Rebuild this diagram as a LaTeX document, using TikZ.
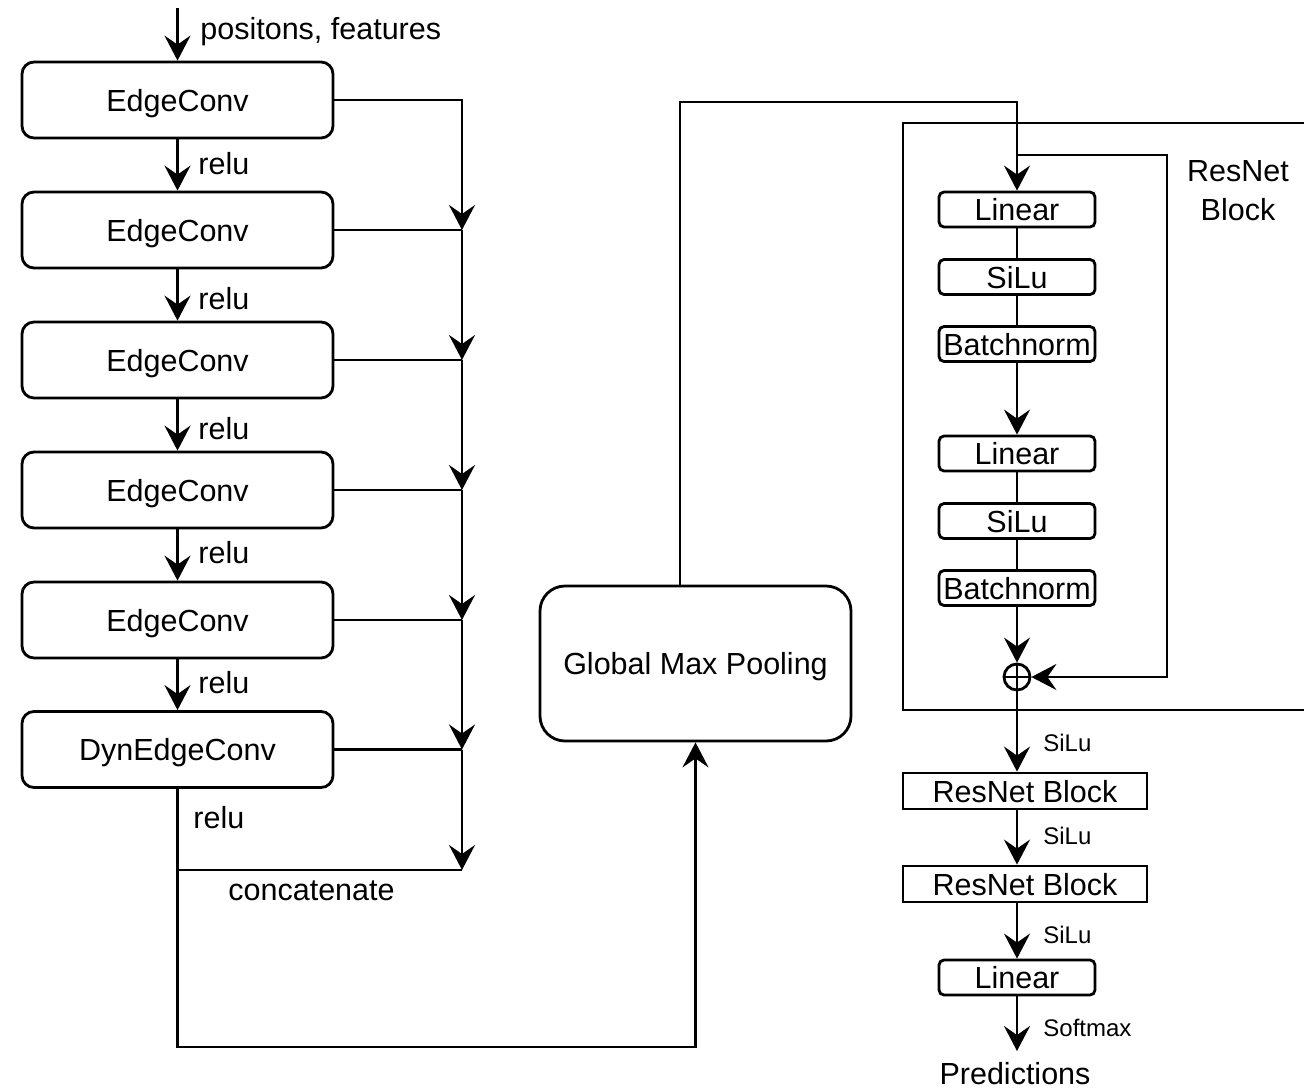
\documentclass[tikz,border=0pt]{standalone}
\usepackage{fontspec}
\setmainfont{Liberation Sans}
\usetikzlibrary{arrows.meta}
\begin{document}
\begin{tikzpicture}[x=1pt,y=-1pt, line width=2.8pt,
  big/.style={font=\fontsize{30.5}{39}\selectfont},
  small/.style={font=\fontsize{24}{28}\selectfont},
  capb/.style={text height=22pt, text depth=0pt},
  caps/.style={text height=17.3pt, text depth=0pt},
  conv/.style={draw, rounded corners=12pt, minimum width=311pt, minimum height=76pt, big, capb, inner sep=0pt},
  layer/.style={draw, rounded corners=5pt, minimum width=156pt, minimum height=35pt, big, capb, inner sep=0pt},
  rblock/.style={draw, minimum width=244pt, minimum height=36pt, big, capb, inner sep=0pt},
  arr/.style={-{Stealth[length=25pt,width=26pt,inset=9pt]}},
  lbl/.style={big, capb, anchor=west, inner sep=0pt},
  slbl/.style={small, caps, anchor=west, inner sep=0pt}]
\useasboundingbox (0,0) rectangle (1304,1088);

% left column
\node[conv] (e1) at (177.5,100) {EdgeConv};
\node[conv] (e2) at (177.5,230) {EdgeConv};
\node[conv] (e3) at (177.5,360) {EdgeConv};
\node[conv] (e4) at (177.5,490) {EdgeConv};
\node[conv] (e5) at (177.5,620) {EdgeConv};
\node[conv] (dyn) at (177.5,749.5) {DynEdgeConv};

\coordinate (in) at (177.5,8);
\draw[arr] (in) -- (e1.north);
\node[lbl] (inl) at (199,28) {positons, features};

\draw[arr] (e1) -- (e2);
\draw[arr] (e2) -- (e3);
\draw[arr] (e3) -- (e4);
\draw[arr] (e4) -- (e5);
\draw[arr] (e5) -- (dyn);
\node[lbl] (r1) at (197,163) {relu};
\node[lbl] (r2) at (197,298) {relu};
\node[lbl] (r3) at (197,428) {relu};
\node[lbl] (r4) at (197,552) {relu};
\node[lbl] (r5) at (197,682) {relu};
\node[lbl] (r6) at (192,817) {relu};

% concatenation bus
\coordinate (j2) at (462,230);
\coordinate (j3) at (462,360);
\coordinate (j4) at (462,490);
\coordinate (j5) at (462,620);
\coordinate (j6) at (462,749.5);
\coordinate (j7) at (462,870);
\coordinate (cc) at (177.5,870);
\draw[arr] (e1.east) -| (j2);
\draw (e2.east) -- (j2);
\draw[arr] (j2) -- (j3);
\draw (e3.east) -- (j3);
\draw[arr] (j3) -- (j4);
\draw (e4.east) -- (j4);
\draw[arr] (j4) -- (j5);
\draw (e5.east) -- (j5);
\draw[arr] (j5) -- (j6);
\draw (dyn.east) -- (j6);
\draw[arr] (j6) -- (j7);
\draw (j7) -- (cc);
\node[lbl] (cat) at (227,889) {concatenate};

% global max pooling
\node[draw, rounded corners=25pt, minimum width=311pt, minimum height=155pt, big, capb] (gmp) at (695.5,663.5) {Global Max Pooling};
\coordinate (bl) at (177.5,1047);
\draw[arr] (dyn.south) -- (bl) -| (gmp.south);

% ResNet block detail
\draw (1308,123) -- (903,123) -- (903,710) -- (1308,710);
\node[big, align=center, inner sep=0pt] (rl) at (1238,191) {ResNet\\Block};

\node[layer] (lin1) at (1017,209.5) {Linear};
\node[layer] (silu1) at (1017,277) {SiLu};
\node[layer] (bn1) at (1017,344) {Batchnorm};
\node[layer] (lin2) at (1017,453.5) {Linear};
\node[layer] (silu2) at (1017,521) {SiLu};
\node[layer] (bn2) at (1017,588) {Batchnorm};
\node[draw, circle, minimum size=26pt, inner sep=0pt] (plus) at (1017,677) {};
\draw (plus.west) -- (plus.east);

\coordinate (t1) at (1017,102);
\draw[arr] ([xshift=-15.5pt]gmp.north) |- (t1) -- (lin1.north);

\draw (lin1) -- (silu1);
\draw (silu1) -- (bn1);
\draw[arr] (bn1) -- (lin2);
\draw (lin2) -- (silu2);
\draw (silu2) -- (bn2);
\draw[arr] (bn2) -- (plus.north);

\coordinate (s0) at (1017,155);
\coordinate (s1) at (1167,155);
\draw[arr] (s0) -- (s1) |- (plus.east);

% head
\node[rblock] (rb1) at (1025,791) {ResNet Block};
\node[rblock] (rb2) at (1025,884) {ResNet Block};
\node[layer] (linF) at (1017,977.5) {Linear};
\coordinate (pe) at (1017,1051);
\node[big, capb, inner sep=0pt] (pred) at (1015,1073) {Predictions};

\draw (plus.north) -- (plus.south);
\draw[arr] (plus.south) -- (plus.south |- rb1.north);
\draw[arr] (rb1.south -| plus) -- (rb2.north -| plus);
\draw[arr] (rb2.south -| plus) -- (linF.north);
\draw[arr] (linF.south) -- (pe);

\node[slbl] (sl1) at (1042,743) {SiLu};
\node[slbl] (sl2) at (1042,836) {SiLu};
\node[slbl] (sl3) at (1042,935) {SiLu};
\node[slbl] (sm) at (1042,1028) {Softmax};
\end{tikzpicture}
\end{document}
